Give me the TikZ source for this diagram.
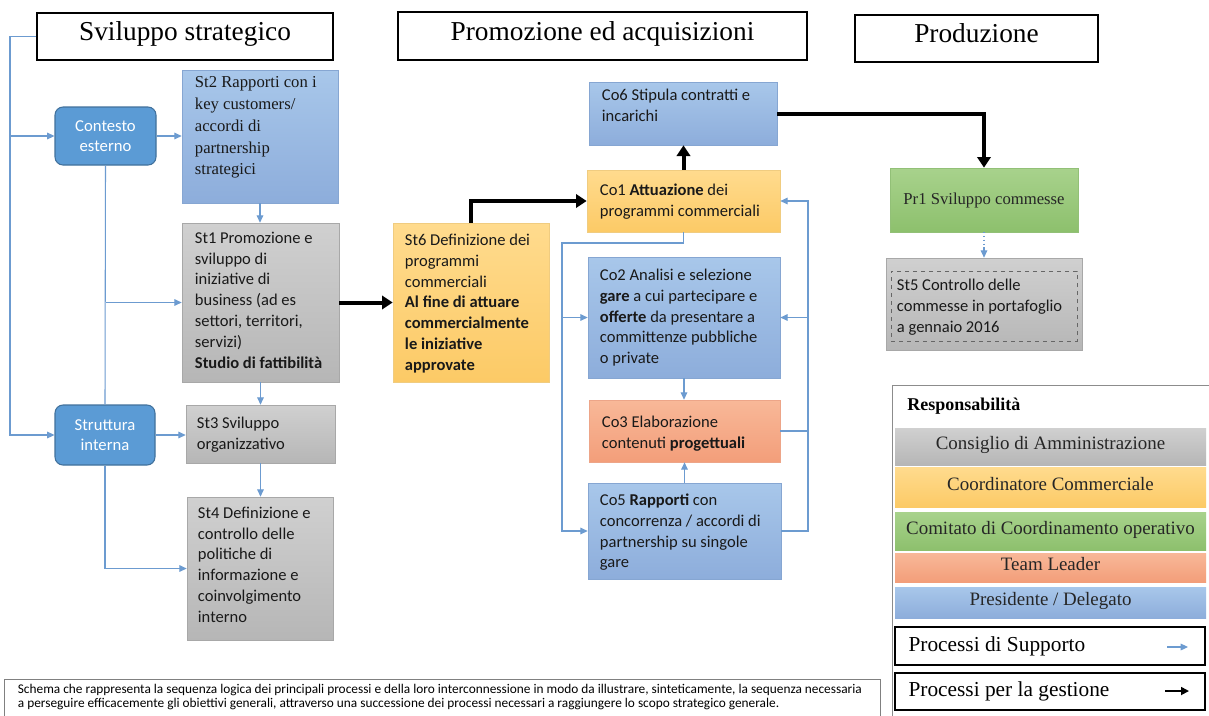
\documentclass[tikz,border=0pt]{standalone}
\usepackage{fontspec}
\setmainfont{Liberation Serif}
\newfontfamily\carl{Carlito}
\usetikzlibrary{fit,arrows.meta}
\definecolor{supc}{HTML}{6C9BD0}
\definecolor{dkblue}{HTML}{5B9BD5}
\definecolor{dkblueb}{HTML}{41719C}
\definecolor{bltop}{HTML}{A8C7EA}
\definecolor{blbot}{HTML}{8DADDB}
\definecolor{blbord}{HTML}{86A6D2}
\definecolor{grtop}{HTML}{D0D0D0}
\definecolor{grbot}{HTML}{B6B6B6}
\definecolor{grbord}{HTML}{A8A8A8}
\definecolor{yetop}{HTML}{FFDB8E}
\definecolor{yebot}{HTML}{FCCA66}
\definecolor{yebord}{HTML}{F0CC80}
\definecolor{gntop}{HTML}{A8D28C}
\definecolor{gnbot}{HTML}{8DC06D}
\definecolor{gnbord}{HTML}{92C077}
\definecolor{satop}{HTML}{F8B898}
\definecolor{sabot}{HTML}{F39E7A}
\definecolor{sabord}{HTML}{EDA588}
\tikzset{
  bx/.style={inner sep=0pt, line width=0.5pt},
  bluebx/.style={bx, draw=blbord, top color=bltop, bottom color=blbot},
  greybx/.style={bx, draw=grbord, top color=grtop, bottom color=grbot},
  yellbx/.style={bx, draw=yebord, top color=yetop, bottom color=yebot},
  greenbx/.style={bx, draw=gnbord, top color=gntop, bottom color=gnbot},
  salmbx/.style={bx, draw=sabord, top color=satop, bottom color=sabot},
  roundbx/.style={bx, draw=dkblueb, line width=0.8pt, fill=dkblue, rounded corners=6pt},
  roundtxt/.style={inner sep=0pt, text=white, align=center, font=\carl\fontsize{12.5}{15}\selectfont},
  txt/.style={anchor=north west, inner sep=0pt, align=left, text=black!90,
     font=\carl\fontsize{12.4}{15.6}\selectfont},
  sertxt/.style={anchor=north west, inner sep=0pt, align=left, text=black!90,
     font=\fontsize{12.5}{16.3}\selectfont},
  titlebx/.style={draw=black, line width=1pt, inner sep=0pt},
  titletxt/.style={inner sep=0pt, text height=0.8em, text depth=0.2em, font=\fontsize{20.5}{24}\selectfont},
  legtxt/.style={inner sep=0pt, text height=0.72em, text depth=0.2em, font=\fontsize{14.2}{17}\selectfont, text=black!85},
  procbx/.style={draw=black, line width=1pt, inner sep=0pt},
  proctxt/.style={anchor=west, inner sep=0pt, font=\fontsize{16}{19}\selectfont},
  sup/.style={draw=supc, line width=0.8pt, -{Triangle[length=5.5pt,width=5pt]}},
  supn/.style={draw=supc, line width=0.8pt},
  ges/.style={draw=black, line width=3pt, -{Triangle[length=8pt,width=10pt]}},
}
\begin{document}
\begin{tikzpicture}[x=0.75pt,y=-0.75pt]
\useasboundingbox (0,0) rectangle (1209,715);
\fill[white] (0,0) rectangle (1209,715);

% titles
\node[titlebx, fit={(37,13) (333,60)}] (t1) {};
\node[titletxt] (t1l) at (t1.center) {Sviluppo strategico};
\node[titlebx, fit={(398,12) (807,60)}] (t2) {};
\node[titletxt] (t2l) at (t2.center) {Promozione ed acquisizioni};
\node[titlebx, fit={(855,15) (1098,62)}] (t3) {};
\node[titletxt] (t3l) at (t3.center) {Produzione};

% left column
\node[roundbx, fit={(55,107) (156,165)}] (ce) {};
\node[roundtxt] (cel) at (ce.center) {Contesto\\esterno};
\node[roundbx, fit={(55,405) (155,465)}] (si) {};
\node[roundtxt] (sil) at (si.center) {Struttura\\interna};

\node[bluebx, fit={(182,70) (338,203)}] (st2) {};
\node[sertxt] (st2t) at ([shift={(13,7)}]st2.north west)
  {St2 Rapporti con i\\key customers/\\accordi di\\partnership\\strategici};
\node[greybx, fit={(182,223) (339,382)}] (st1) {};
\node[txt] (st1t) at ([shift={(13,9)}]st1.north west)
  {St1 Promozione e\\sviluppo di\\iniziative di\\business (ad es\\settori, territori,\\servizi)\\\textbf{Studio di fattibilità}};
\node[greybx, fit={(186,405) (335,463)}] (st3) {};
\node[txt] (st3t) at ([shift={(11,12)}]st3.north west) {St3 Sviluppo\\organizzativo};
\node[greybx, fit={(187,497) (333,640)}] (st4) {};
\node[txt] (st4t) at ([shift={(11,10)}]st4.north west)
  {St4 Definizione e\\controllo delle\\politiche di\\informazione e\\coinvolgimento\\interno};

\node[yellbx, fit={(393,223) (549,382)}] (st6) {};
\node[txt] (st6t) at ([shift={(12,11)}]st6.north west)
  {St6 Definizione dei\\programmi\\commerciali\\\textbf{Al fine di attuare}\\\textbf{commercialmente}\\\textbf{le iniziative}\\\textbf{approvate}};

% middle column
\node[bluebx, fit={(589,82) (777,145)}] (co6) {};
\node[txt] (co6t) at ([shift={(13,7)}]co6.north west) {Co6 Stipula contratti e\\incarichi};
\node[yellbx, fit={(587,170) (780,232)}] (co1) {};
\node[txt] (co1t) at ([shift={(13,14)}]co1.north west) {Co1 \textbf{Attuazione} dei\\programmi commerciali};
\node[bluebx, fit={(588,257) (780,378)}] (co2) {};
\node[txt] (co2t) at ([shift={(12,12)}]co2.north west)
  {Co2 Analisi e selezione\\\textbf{gare} a cui partecipare e\\\textbf{offerte} da presentare a\\committenze pubbliche\\o private};
\node[salmbx, fit={(589,400) (780,462)}] (co3) {};
\node[txt] (co3t) at ([shift={(13,16)}]co3.north west) {Co3 Elaborazione\\contenuti \textbf{progettuali}};
\node[bluebx, fit={(588,483) (781,579)}] (co5) {};
\node[txt] (co5t) at ([shift={(12,11)}]co5.north west)
  {Co5 \textbf{Rapporti} con\\concorrenza / accordi di\\partnership su singole\\gare};

% right column
\node[greenbx, fit={(890,168) (1078,232)}] (pr1) {};
\node[inner sep=0pt, font=\fontsize{12.5}{15}\selectfont, text=black!85] (pr1l) at (pr1.center) {Pr1 Sviluppo commesse};
\node[greybx, fit={(886,258) (1082,350)}] (st5) {};
\node[draw=black!60, dashed, line width=0.5pt, inner sep=0pt, fit={(891,271) (1077,341)}] (st5i) {};
\node[txt] (st5t) at ([shift={(11,21)}]st5.north west)
  {St5 Controllo delle\\commesse in portafoglio\\a gennaio 2016};

% legend
\node[draw=black!45, line width=0.6pt, inner sep=0pt, fit={(892,385) (1215,720)}] (leg) {};
\node[anchor=west, inner sep=0pt, font=\bfseries\fontsize{13.5}{16}\selectfont] (legt) at (907,406) {Responsabilità};
\node[greybx, draw=none, fit={(895,428) (1206,465)}] (lcda) {};
\node[legtxt] (lcdal) at (lcda.center) {Consiglio di Amministrazione};
\node[yellbx, draw=none, fit={(895,467) (1206,507)}] (lcc) {};
\node[legtxt] (lccl) at (lcc.center) {Coordinatore Commerciale};
\node[greenbx, draw=none, fit={(895,512) (1206,550)}] (lcco) {};
\node[legtxt] (lccol) at (lcco.center) {Comitato di Coordinamento operativo};
\node[salmbx, draw=none, fit={(895,553) (1206,582)}] (ltl) {};
\node[legtxt] (ltll) at (ltl.center) {Team Leader};
\node[bluebx, draw=none, fit={(895,587) (1206,618)}] (lpd) {};
\node[legtxt] (lpdl) at (lpd.center) {Presidente / Delegato};
\node[procbx, fit={(895,627) (1205,665)}] (lps) {};
\node[proctxt] (lpst) at ([xshift=10.5pt]lps.west) {Processi di Supporto};
\node[procbx, fit={(895,673) (1205,710)}] (lpg) {};
\node[proctxt] (lpgt) at ([xshift=10.5pt]lpg.west) {Processi per la gestione};
\coordinate (psa) at (1167,647);
\coordinate (psb) at (1188,647);
\coordinate (pga) at (1165,691);
\coordinate (pgb) at (1189,691);
\draw[sup] (psa) -- (psb);
\draw[draw=black, line width=1.3pt, -{Triangle[length=6pt,width=6pt]}] (pga) -- (pgb);

% footnote
\node[draw=black!50, line width=0.6pt, inner sep=0pt, fit={(4,679) (880,720)}] (fn) {};
\node[anchor=north west, inner sep=0pt, align=left, font=\carl\fontsize{10}{10.5}\selectfont] (fnt)
  at ([shift={(14,5)}]fn.north west)
  {Schema che rappresenta la sequenza logica dei principali processi e della loro interconnessione in modo da illustrare, sinteticamente, la sequenza necessaria\\a perseguire efficacemente gli obiettivi generali, attraverso una successione dei processi necessari a raggiungere lo scopo strategico generale.};

% support connectors (left)
\coordinate (lx) at (10,0);
\draw[sup] (t1.west) -| (lx |- si.west) -- (si.west);
\draw[sup] (lx |- ce.west) -- (ce.west);
\draw[sup] (ce.east) -- (ce.east -| st2.west);
\draw[supn] (ce.south) -- (si.north);
\draw[sup] (ce.south |- st1.west) -- (st1.west);
\draw[sup] (si.east) -- (si.east -| st3.west);
\draw[sup] (si.south) |- (st4.west);
\draw[sup] (st2.south) -- (st2.south |- st1.north);
\draw[sup] (st1.south) -- (st1.south |- st3.north);
\draw[sup] (st3.south) -- (st3.south |- st4.north);

% management connectors
\draw[ges] (st1.east) -- (st1.east -| st6.west);
\draw[ges] (st6.north) |- (co1.west);
\draw[ges] (co1.north) -- (co1.north |- co6.south);
\draw[ges] (co6.east) -| (pr1.north);

% support connectors (middle / right)
\coordinate (pd) at ([yshift=7pt]st5.north -| pr1.south);
\draw[supn, dotted] (pr1.south) -- (pd);
\draw[sup] (pd) -- (pd |- st5.north);
\coordinate (lb) at (562,243);
\draw[sup] (co1.south) |- (lb) |- (co5.west);
\draw[sup] (lb |- co2.west) -- (co2.west);
\draw[sup] (co2.south) -- (co2.south |- co3.north);
\draw[sup] (co5.north) -- (co5.north |- co3.south);
\coordinate (rb) at (808,0);
\draw[sup] (co5.east) -| (rb |- co1.east) -- (co1.east);
\draw[supn] (co3.east) -- (rb |- co3.east);
\draw[sup] (rb |- co2.east) -- (co2.east);
\end{tikzpicture}
\end{document}
